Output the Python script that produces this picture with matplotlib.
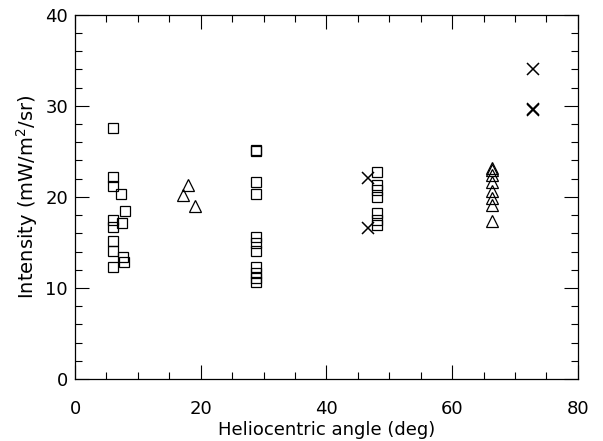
import numpy as np
import matplotlib
matplotlib.use("Agg")
import matplotlib.pyplot as plt
from matplotlib.ticker import MultipleLocator

# Quadrados (psym=6)
sq_x = [6.0] * 8 + [7.3, 8.0, 7.4, 7.6, 7.8] + [28.8] * 11 + [48.0] * 7
sq_y = [27.6, 22.2, 21.2, 17.5, 16.7, 15.1, 14.1, 12.3,
        20.3, 18.4, 17.1, 13.4, 12.9,
        25.2, 25.0, 21.6, 20.3, 15.6, 14.9, 14.1, 12.3, 11.6, 11.1, 10.7,
        22.7, 21.3, 20.8, 20.0, 18.2, 17.5, 16.9]

# Triangulos (psym=5)
tri_x = [18.0, 17.2, 19.1] + [66.4] * 8
tri_y = [21.3, 20.2, 19.0, 23.2, 23.0, 22.4, 21.6, 20.6, 19.9, 19.1, 17.4]

# Cruzes (psym=7)
x_x = [46.6, 46.6, 72.8, 72.8, 72.8]
x_y = [22.1, 16.6, 34.0, 29.6, 29.5]

fig = plt.figure(figsize=(6.03, 4.41), dpi=100)
ax = fig.add_axes([0.1244, 0.1406, 0.834, 0.826])

mk = dict(linestyle='none', markerfacecolor='none', markeredgecolor='black',
          markeredgewidth=0.9)
ax.plot(sq_x, sq_y, marker='s', markersize=7.8, **mk)
ax.plot(tri_x, tri_y, marker='^', markersize=8, **mk)
ax.plot(x_x, x_y, marker='x', markersize=8, color='black', linestyle='none',
        markeredgewidth=1.1)

ax.set_xlim(0, 80)
ax.set_ylim(0, 40)
ax.xaxis.set_major_locator(MultipleLocator(20))
ax.xaxis.set_minor_locator(MultipleLocator(5))
ax.yaxis.set_major_locator(MultipleLocator(10))
ax.yaxis.set_minor_locator(MultipleLocator(2))
ax.tick_params(which='both', direction='in', top=True, right=True,
               width=0.8, labelsize=13)
ax.tick_params(axis='x', which='both', pad=15)
ax.tick_params(axis='y', which='both', pad=5)
ax.tick_params(which='major', length=10)
ax.tick_params(which='minor', length=5)
for s in ax.spines.values():
    s.set_linewidth(0.9)

ax.set_xlabel("Heliocentric angle (deg)", fontsize=13, labelpad=2)
ax.set_ylabel("Intensity (mW/m$^2$/sr)", fontsize=14, labelpad=4)

fig.savefig("out.png", dpi=100)
